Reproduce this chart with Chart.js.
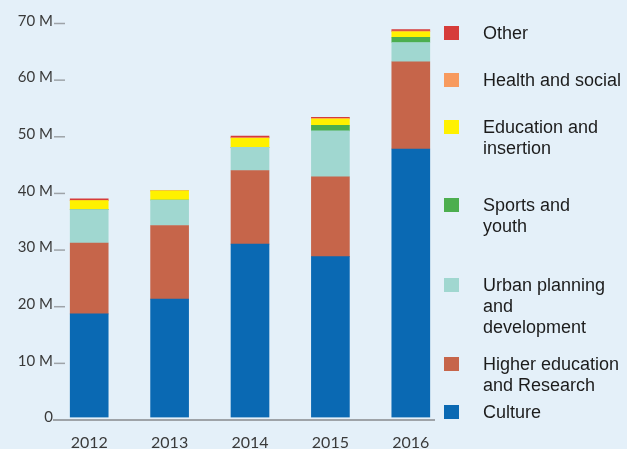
<!DOCTYPE html>
<html>
<head>
<meta charset="utf-8">
<script src="https://cdn.jsdelivr.net/npm/chart.js@4/dist/chart.umd.min.js"></script>
<style>
  html, body { margin: 0; padding: 0; background: #E4F0F9; }
  #wrap { position: relative; width: 627px; height: 449px; }
</style>
</head>
<body>
<div id="wrap"><canvas id="c"></canvas></div>
<script>
// Annual funding by sector, in millions
const years = ['2012', '2013', '2014', '2015', '2016'];
const culture        = [18.3, 20.9, 30.6, 28.4, 47.4];
const higherEdu      = [12.5, 13.0, 13.0, 14.1, 15.4];
const urbanPlanning  = [5.9, 4.5, 4.1, 8.1, 3.4];
const sportsYouth    = [0, 0, 0, 1.0, 0.9];
const educationIns   = [1.6, 1.6, 1.6, 1.1, 1.0];
const healthSocial   = [0, 0, 0.1, 0.1, 0.1];
const other          = [0.3, 0, 0.3, 0.2, 0.3];
const yTicks = [0, 10, 20, 30, 40, 50, 60, 70];

const seriesNames = ['Culture', 'Higher education and Research', 'Urban planning and development',
  'Sports and youth', 'Education and insertion', 'Health and social', 'Other'];
const seriesValues = [culture, higherEdu, urbanPlanning, sportsYouth, educationIns, healthSocial, other];
const seriesColors = ['#0A69B3', '#C6654A', '#A0D7D0', '#4CAE4F', '#FFF100', '#F79A5E', '#D63C3A'];

// legend text lines, top entry first
const legendLines = [
  ['Other'],
  ['Health and social'],
  ['Education and', 'insertion'],
  ['Sports and', 'youth'],
  ['Urban planning', 'and', 'development'],
  ['Higher education', 'and Research'],
  ['Culture']
];
const legendSwatchTop = [26, 73, 120, 198, 278, 357, 405];

const legendPlugin = {
  id: 'sideLegend',
  afterDraw(chart) {
    const ctx = chart.ctx;
    const n = chart.data.datasets.length;
    ctx.save();
    ctx.font = '18px "Liberation Sans", Arial, sans-serif';
    ctx.textBaseline = 'middle';
    ctx.textAlign = 'left';
    for (let k = 0; k < n; k++) {
      const ds = chart.data.datasets[n - 1 - k];
      const top = legendSwatchTop[k];
      ctx.fillStyle = ds.backgroundColor;
      ctx.fillRect(444, top, 15, 14);
      ctx.fillStyle = '#1c1c1c';
      legendLines[k].forEach((line, j) => {
        ctx.fillText(line, 483, top + 8 + j * 21);
      });
    }
    ctx.restore();
  }
};

// value axis: labels, short tick marks, and the baseline
const axisMarks = {
  id: 'axisMarks',
  afterDraw(chart) {
    const ctx = chart.ctx;
    const y = chart.scales.y;
    const x = chart.scales.x;
    ctx.save();
    ctx.font = '15px Lato, "DejaVu Sans", sans-serif';
    ctx.textAlign = 'right';
    ctx.textBaseline = 'middle';
    yTicks.forEach(v => {
      const py = y.getPixelForValue(v);
      ctx.fillStyle = '#3a3a3a';
      ctx.fillText(v === 0 ? '0' : v + ' M', 53, py);
      ctx.strokeStyle = '#9EA3A8';
      ctx.beginPath();
      if (v === 0) {
        ctx.lineWidth = 2;
        ctx.moveTo(53, py + 2.5);
        ctx.lineTo(x.right - 16, py + 2.5);
      } else {
        ctx.lineWidth = 1.5;
        ctx.moveTo(54, py + 2.5);
        ctx.lineTo(65, py + 2.5);
      }
      ctx.stroke();
    });
    ctx.restore();
  }
};

new Chart(document.getElementById('c'), {
  type: 'bar',
  data: {
    labels: years,
    datasets: seriesNames.map((name, i) => ({
      label: name,
      data: seriesValues[i],
      backgroundColor: seriesColors[i],
      borderWidth: 0,
      barThickness: 38
    }))
  },
  options: {
    responsive: true,
    maintainAspectRatio: false,
    animation: false,
    layout: { padding: { top: 21, right: 176, left: 0, bottom: 0 } },
    plugins: { legend: { display: false }, tooltip: { enabled: false } },
    scales: {
      x: {
        stacked: true,
        grid: { display: false, drawTicks: false },
        border: { display: false },
        ticks: {
          color: '#3a3a3a',
          font: { family: 'Lato, "DejaVu Sans", sans-serif', size: 16 },
          padding: 16
        },
        afterFit(scale) { scale.height = 31.5; }
      },
      y: {
        stacked: true,
        min: 0,
        max: 70,
        grid: { display: false, drawTicks: false },
        border: { display: false },
        afterBuildTicks(scale) { scale.ticks = yTicks.map(v => ({ value: v })); },
        ticks: { display: false },
        afterFit(scale) { scale.width = 49; }
      }
    }
  },
  plugins: [legendPlugin, axisMarks]
});
</script>
</body>
</html>
